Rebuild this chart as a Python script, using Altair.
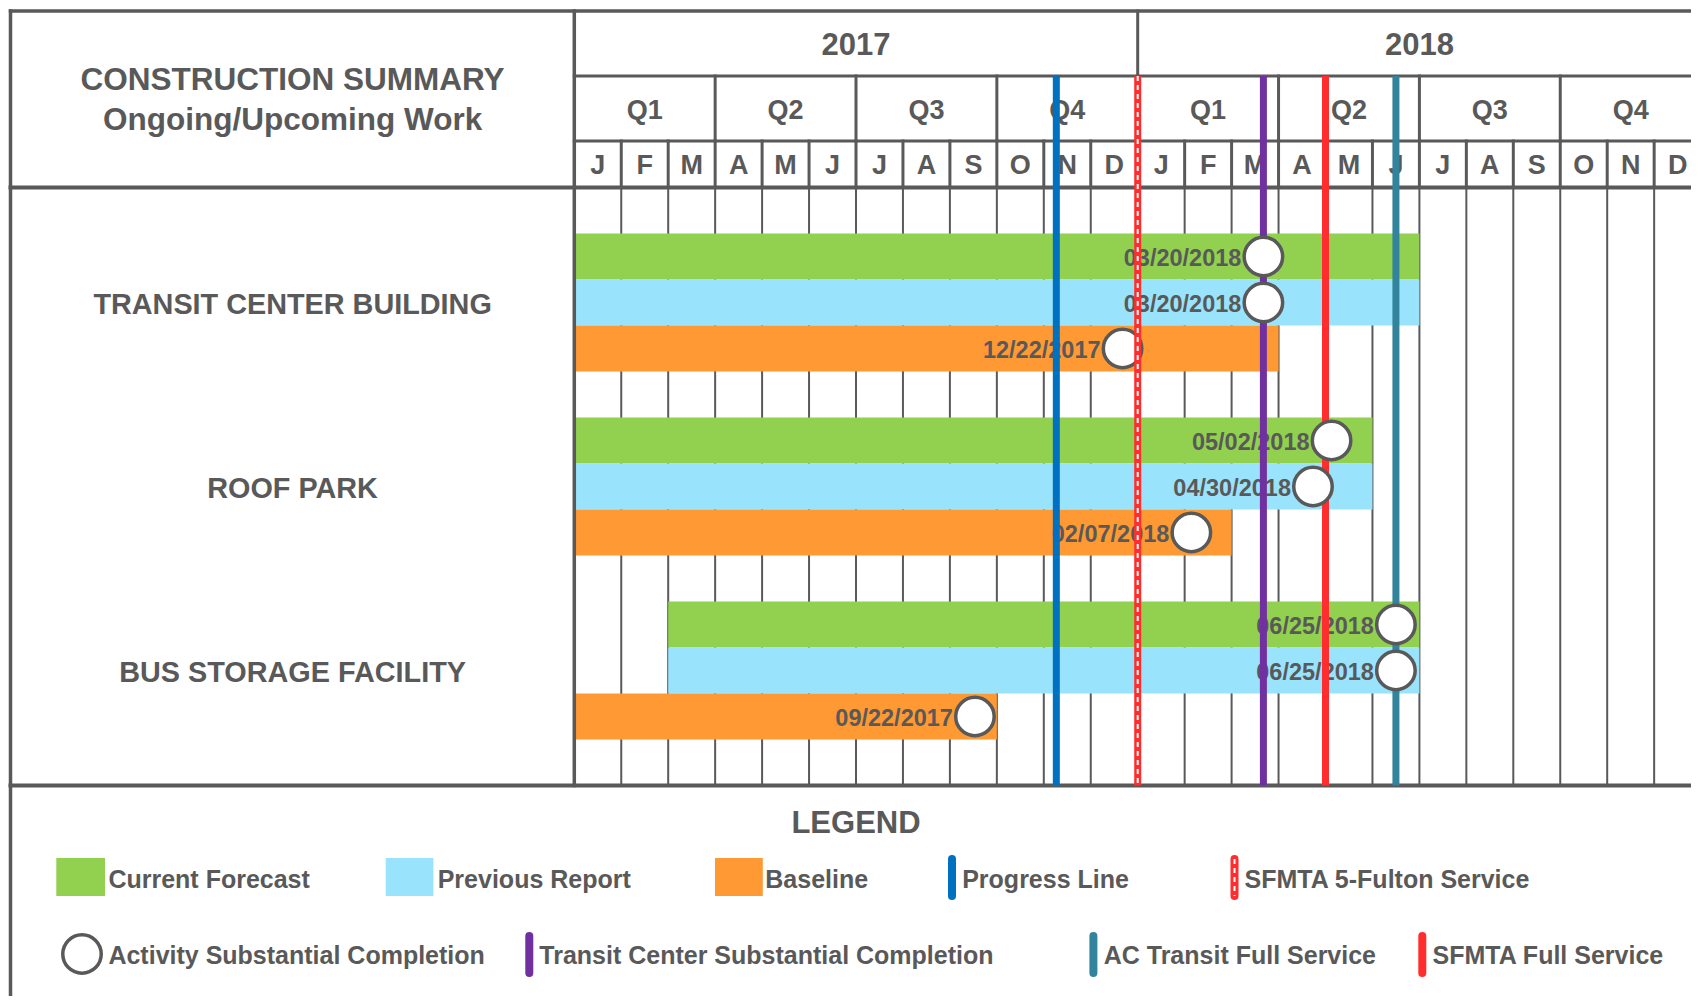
import calendar
import altair as alt
import pandas as pd

# ---------------- data ----------------
activities = ["TRANSIT CENTER BUILDING", "ROOF PARK", "BUS STORAGE FACILITY"]
series = ["Current Forecast", "Previous Report", "Baseline"]
series_colors = ["#92D050", "#99E3FC", "#FF9933"]

# bar start / end in months since Jan 2017 (per activity: forecast, previous, baseline)
bar_start = [[0, 0, 0], [0, 0, 0], [2, 2, 0]]
bar_end = [[18, 18, 15], [17, 17, 14], [18, 18, 9]]

completion_labels = [
    ["03/20/2018", "03/20/2018", "12/22/2017"],
    ["05/02/2018", "04/30/2018", "02/07/2018"],
    ["06/25/2018", "06/25/2018", "09/22/2017"],
]
# where the completion circles sit on the timeline
completion_marker_dates = [
    ["2018-03-22", "2018-03-22", "2017-12-22"],
    ["2018-05-05", "2018-04-23", "2018-02-05"],
    ["2018-06-16", "2018-06-16", "2017-09-17"],
]

events = ["Progress Line", "SFMTA 5-Fulton Service",
          "Transit Center Substantial Completion", "SFMTA Full Service",
          "AC Transit Full Service"]
event_dates = ["2017-11-09", "2018-01-01", "2018-03-22", "2018-05-01", "2018-06-16"]
event_colors = ["#0070C0", "#FF2D2D", "#7030A0", "#FF2D2D", "#31849B"]

years = ["2017", "2018"]
quarters = ["Q1", "Q2", "Q3", "Q4"]
months = ["J", "F", "M", "A", "M", "J", "J", "A", "S", "O", "N", "D"]

title_lines = ["CONSTRUCTION SUMMARY", "Ongoing/Upcoming Work"]
legend_title = "LEGEND"
legend_row1 = ["Current Forecast", "Previous Report", "Baseline",
               "Progress Line", "SFMTA 5-Fulton Service"]
legend_row2 = ["Activity Substantial Completion",
               "Transit Center Substantial Completion",
               "AC Transit Full Service", "SFMTA Full Service"]

# ---------------- layout ----------------
FONT = "Liberation Sans"
GRAY = "#595959"
W, H = 1683, 988
PAGE = 8
MONTH_PX = 46.95
ROW_PX = 46.0
X0_PAGE = 574.3
Y0_PAGE = 187.5
N_MONTHS = 24
N_ROWS = 13
CIRCLE_SIZE = 1480
TEXT_DY = 2


def ux(p):
    return (p - X0_PAGE) / MONTH_PX


def uy(p):
    return (p - Y0_PAGE) / ROW_PX


def frac_month(s):
    y, m, d = (int(v) for v in s.split("-"))
    return (y - 2017) * 12 + (m - 1) + (d - 1) / calendar.monthrange(y, m)[1]


XL, XR = ux(PAGE), ux(PAGE + W)
YT, YB = uy(PAGE), uy(PAGE + H)
Y_TOP, Y_YEAR, Y_QTR = uy(11), uy(76), uy(141)
X_LEFT = ux(10.5)
XEND = XR + 1

xs = alt.Scale(domain=[XL, XR], nice=False, zero=False)
ys = alt.Scale(domain=[YT, YB], nice=False, zero=False, reverse=True)


def X(f):
    return alt.X(f, type="quantitative", scale=xs, axis=None)


def Y(f):
    return alt.Y(f, type="quantitative", scale=ys, axis=None)


# ---------------- tables ----------------
bars = []
for a, act in enumerate(activities):
    for s, ser in enumerate(series):
        r = a * 4 + 1 + s
        bars.append(dict(activity=act, series=ser, color=series_colors[s],
                         row=r, row2=r + 1, rowc=r + 0.5,
                         start=bar_start[a][s], end=bar_end[a][s],
                         label=completion_labels[a][s],
                         marker=frac_month(completion_marker_dates[a][s])))
bars = pd.DataFrame(bars)

grid = pd.DataFrame([dict(x=m, x2=m, y=0, y2=N_ROWS, w=2) for m in range(1, N_MONTHS + 1)])

seg = []
def add(x, x2, y, y2, w):
    seg.append(dict(x=x, x2=x2, y=y, y2=y2, w=w))

add(X_LEFT, XEND, Y_TOP, Y_TOP, 3.5)
add(X_LEFT, XEND, 0, 0, 4)
add(X_LEFT, XEND, N_ROWS, N_ROWS, 4)
add(0, XEND, Y_YEAR, Y_YEAR, 3)
add(0, XEND, Y_QTR, Y_QTR, 3)
add(X_LEFT, X_LEFT, Y_TOP, YB + 1, 3.5)
add(0, 0, Y_TOP, N_ROWS, 3.5)
for m in (12, 24):
    add(m, m, Y_TOP, Y_YEAR, 3)
for m in range(3, N_MONTHS + 1, 3):
    add(m, m, Y_YEAR, Y_QTR, 3)
for m in range(1, N_MONTHS + 1):
    add(m, m, Y_QTR, 0, 3)
struct = pd.DataFrame(seg)

texts = []
for i, yr in enumerate(years):
    texts.append(dict(x=6 + 12 * i, y=(Y_TOP + Y_YEAR) / 2, text=yr, fs=31))
for i in range(8):
    texts.append(dict(x=1.5 + 3 * i, y=(Y_YEAR + Y_QTR) / 2, text=quarters[i % 4], fs=27))
for i in range(N_MONTHS):
    texts.append(dict(x=i + 0.5, y=Y_QTR / 2, text=months[i % 12], fs=27))
texts.append(dict(x=-6, y=uy(79), text=title_lines[0], fs=31.5))
texts.append(dict(x=-6, y=uy(119), text=title_lines[1], fs=31.5))
for a, act in enumerate(activities):
    texts.append(dict(x=-6, y=a * 4 + 2.5, text=act, fs=28.8))
texts.append(dict(x=ux(856), y=uy(822), text=legend_title, fs=31))
texts = pd.DataFrame(texts)

ev = pd.DataFrame(dict(event=events, pos=[frac_month(d) for d in event_dates],
                       color=event_colors))
ev["y"] = Y_YEAR
ev["y2"] = N_ROWS
ev_solid = ev[ev.event != "SFMTA 5-Fulton Service"]
ev_hatch = ev[ev.event == "SFMTA 5-Fulton Service"]

# legend
R1, R2 = uy(877.5), uy(954)
swatch_px = [(56.3, 105.0), (385.7, 433.4), (715.0, 762.8)]
text1_px = [108.4, 437.7, 765.3, 962.2, 1244.6]
text2_px = [108.4, 539.3, 1103.7, 1432.6]
sw = pd.DataFrame([dict(x=ux(a), x2=ux(b), y=uy(858), y2=uy(896), color=series_colors[i])
                   for i, (a, b) in enumerate(swatch_px)])
ev_color = dict(zip(events, event_colors))
leg_lines = pd.DataFrame([
    dict(x=ux(952.0), y=uy(859), y2=uy(896), color=ev_color["Progress Line"]),
    dict(x=ux(529.3), y=uy(936), y2=uy(973), color=ev_color["Transit Center Substantial Completion"]),
    dict(x=ux(1093.4), y=uy(936), y2=uy(973), color=ev_color["AC Transit Full Service"]),
    dict(x=ux(1422.3), y=uy(936), y2=uy(973), color=ev_color["SFMTA Full Service"]),
])
leg_hatch = pd.DataFrame([dict(x=ux(1234.5), y=uy(859), y2=uy(896), color=ev_color["SFMTA 5-Fulton Service"])])
leg_circle = pd.DataFrame([dict(x=ux(82.0), y=R2)])
leg_text = pd.DataFrame(
    [dict(x=ux(p), y=R1, text=t) for p, t in zip(text1_px, legend_row1)]
    + [dict(x=ux(p), y=R2, text=t) for p, t in zip(text2_px, legend_row2)]
)

# ---------------- layers ----------------
L_grid = alt.Chart(grid).mark_rule(color=GRAY, clip=True).encode(
    x=X("x"), x2="x2", y=Y("y"), y2="y2", size=alt.Size("w:Q", scale=None))

L_bars = alt.Chart(bars).mark_rect(clip=True).encode(
    x=X("start"), x2="end", y=Y("row"), y2="row2",
    color=alt.Color("color:N", scale=None),
    tooltip=["activity", "series", "label"])

L_struct = alt.Chart(struct).mark_rule(color=GRAY, strokeCap="square", clip=True).encode(
    x=X("x"), x2="x2", y=Y("y"), y2="y2", size=alt.Size("w:Q", scale=None))

L_text = alt.Chart(texts).mark_text(
    font=FONT, fontWeight="bold", color=GRAY, align="center", baseline="middle",
    dy=TEXT_DY, clip=True
).encode(x=X("x"), y=Y("y"), text="text:N", size=alt.Size("fs:Q", scale=None))

L_dates = alt.Chart(bars).mark_text(
    font=FONT, fontWeight="bold", color=GRAY, align="right", baseline="middle",
    fontSize=23.5, dx=-22, dy=TEXT_DY, clip=True
).encode(x=X("marker"), y=Y("rowc"), text="label:N")

L_events = alt.Chart(ev_solid).mark_rule(strokeWidth=7, clip=True).encode(
    x=X("pos"), y=Y("y"), y2="y2", color=alt.Color("color:N", scale=None),
    tooltip=["event"])

L_markers = alt.Chart(bars).mark_point(
    shape="circle", filled=True, fill="white", stroke=GRAY, strokeWidth=3.5,
    size=CIRCLE_SIZE, opacity=1, clip=True
).encode(x=X("marker"), y=Y("rowc"))

L_hatch_red = alt.Chart(ev_hatch).mark_rule(strokeWidth=7, clip=True).encode(
    x=X("pos"), y=Y("y"), y2="y2", color=alt.Color("color:N", scale=None),
    tooltip=["event"])
L_hatch_white = alt.Chart(ev_hatch).mark_rule(
    strokeWidth=2, color="white", strokeDash=[5, 4], clip=True
).encode(x=X("pos"), y=Y("y"), y2="y2")

L_sw = alt.Chart(sw).mark_rect(clip=True).encode(
    x=X("x"), x2="x2", y=Y("y"), y2="y2", color=alt.Color("color:N", scale=None))
L_leg_lines = alt.Chart(leg_lines).mark_rule(strokeWidth=8, strokeCap="round", clip=True).encode(
    x=X("x"), y=Y("y"), y2="y2", color=alt.Color("color:N", scale=None))
L_leg_hatch = alt.Chart(leg_hatch).mark_rule(strokeWidth=8, strokeCap="round", clip=True).encode(
    x=X("x"), y=Y("y"), y2="y2", color=alt.Color("color:N", scale=None))
L_leg_hatch_w = alt.Chart(leg_hatch).mark_rule(
    strokeWidth=2, color="white", strokeDash=[5, 4], clip=True
).encode(x=X("x"), y=Y("y"), y2="y2")
L_leg_circle = alt.Chart(leg_circle).mark_point(
    shape="circle", filled=True, fill="white", stroke=GRAY, strokeWidth=3.5,
    size=CIRCLE_SIZE, opacity=1, clip=True
).encode(x=X("x"), y=Y("y"))
L_leg_text = alt.Chart(leg_text).mark_text(
    font=FONT, fontWeight="bold", color=GRAY, align="left", baseline="middle",
    fontSize=25, dy=TEXT_DY, clip=True
).encode(x=X("x"), y=Y("y"), text="text:N")

chart = alt.layer(
    L_grid, L_bars, L_struct, L_text, L_dates, L_events, L_markers,
    L_hatch_red, L_hatch_white,
    L_sw, L_leg_lines, L_leg_hatch, L_leg_hatch_w, L_leg_circle, L_leg_text,
).properties(
    width=W, height=H, padding=0,
    autosize=alt.AutoSizeParams(type="none"),
    background="white",
).configure_view(strokeWidth=0)

chart.save("out.html", embed_options={"renderer": "svg", "actions": False})
